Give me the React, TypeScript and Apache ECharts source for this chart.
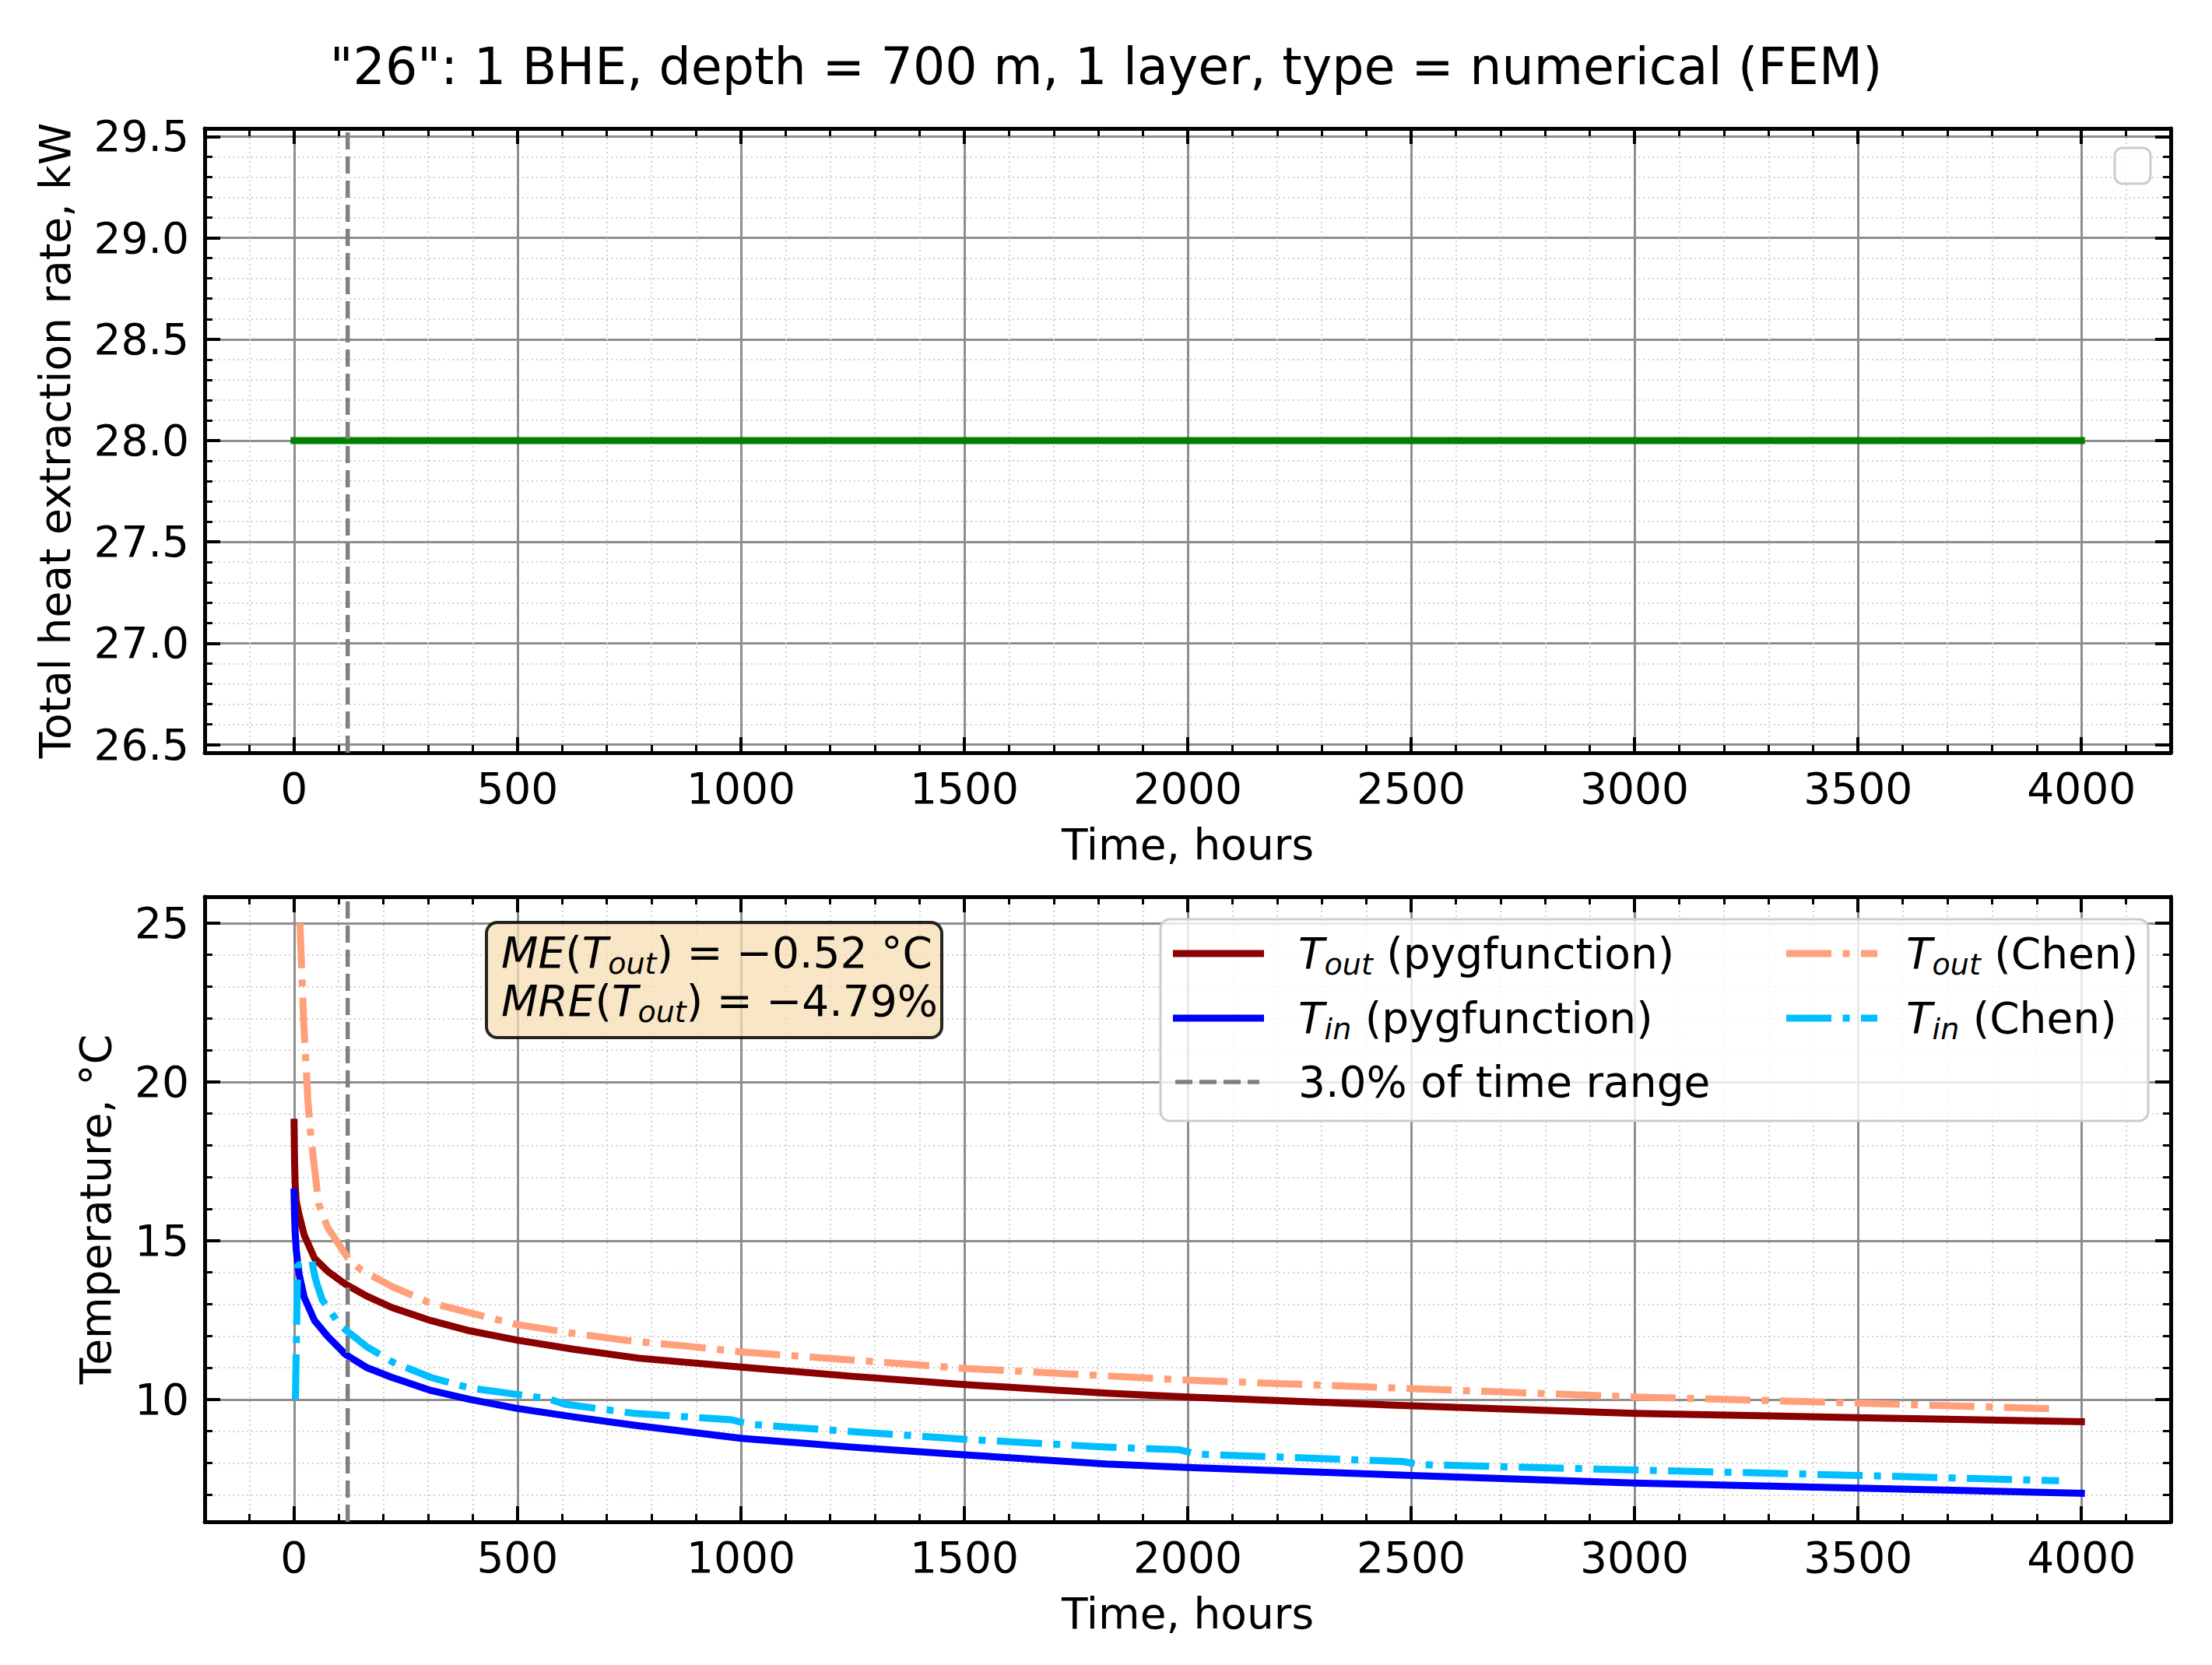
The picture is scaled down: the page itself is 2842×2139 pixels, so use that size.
import React, { useEffect, useRef } from "react";
import * as echarts from "echarts";

// ---------- data ----------
const TITLE = '"26": 1 BHE, depth = 700 m, 1 layer, type = numerical (FEM)';
const X_MIN = -200;
const X_MAX = 4200;
const Q_MIN = 26.46;
const Q_MAX = 29.54;
const T_MIN = 6.15;
const T_MAX = 25.83;
const SPLIT_HOURS = 120; // 3.0 % of time range

const timeQ = [0, 4000];
const qTotal = [28.0, 28.0];

const timePyg = [0, 1, 2.3, 5, 11, 22.6, 46, 75, 115, 162, 220, 307, 394, 499, 627, 772, 1000, 1250, 1500, 1817, 2000, 2500, 3000, 3500, 4000];
const toutPyg = [18.73, 17.6, 16.81, 16.24, 15.83, 15.18, 14.44, 14.04, 13.63, 13.26, 12.89, 12.48, 12.16, 11.87, 11.58, 11.3, 11.02, 10.73, 10.47, 10.2, 10.08, 9.8, 9.56, 9.43, 9.3];
const tinPyg = [16.53, 15.9, 15.3, 14.69, 13.96, 13.22, 12.48, 11.99, 11.42, 11.01, 10.69, 10.28, 10.0, 9.72, 9.45, 9.17, 8.78, 8.5, 8.26, 7.97, 7.86, 7.61, 7.37, 7.21, 7.05];

const timeChenOut = [13, 22, 31, 37, 55, 75, 121, 150, 220, 301, 394, 499, 627, 760, 880, 1000, 1500, 2000, 2450, 3000, 3500, 3950];
const toutChen = [25.0, 21.75, 19.4, 18.36, 16.16, 15.42, 14.44, 14.08, 13.55, 13.06, 12.73, 12.36, 12.08, 11.83, 11.68, 11.5, 10.98, 10.61, 10.37, 10.08, 9.89, 9.7];

const timeChenIn = [3, 8, 11, 30, 40, 46, 52, 63, 104, 162, 220, 307, 394, 499, 568, 606, 763, 980, 1020, 1237, 1500, 1817, 1980, 2020, 2480, 2520, 3000, 3500, 3950];
const tinChen = [10.0, 14.2, 14.24, 14.3, 14.36, 13.9, 13.6, 13.14, 12.32, 11.67, 11.18, 10.69, 10.36, 10.16, 10.03, 9.85, 9.56, 9.36, 9.22, 9.0, 8.75, 8.5, 8.42, 8.28, 8.05, 7.95, 7.78, 7.61, 7.44];

const LEGEND_LABELS = ["(pygfunction)", "(pygfunction)", "3.0% of time range", "(Chen)", "(Chen)"];

// ---------- style ----------
const FONT = "'DejaVu Sans', 'Noto Sans', sans-serif";
const FS = 55;
const C_TOUT = "#8b0000";
const C_TIN = "#0000ff";
const C_TOUT_CHEN = "#ffa07a";
const C_TIN_CHEN = "#00bfff";
const C_GREEN = "#008000";
const C_VLINE = "#808080";
const LW = 9;
const DASHDOT = [58, 14.5, 9, 14.5];
const DASHED = [22, 9];

const zip = (xs: number[], ys: number[]) => xs.map((x, i) => [x, ys[i]]);

const axisLine = { show: true, onZero: false, lineStyle: { color: "#000", width: 5 } };
const majorTick = { show: true, inside: true, length: 20, lineStyle: { color: "#000", width: 4 } };
const minorTick = { show: true, splitNumber: 5, length: 10, lineStyle: { color: "#000", width: 3 } };
const majorGrid = { show: true, lineStyle: { color: "#8e8e8e", width: 3 } };
const minorGrid = { show: true, lineStyle: { color: "#d2d2d2", width: 2, type: [2, 4] } };
const labelStyle = { fontFamily: FONT, fontSize: FS, color: "#000" };

function xAxesFor(gridIndex: number) {
  const common = {
    type: "value",
    gridIndex,
    min: X_MIN,
    max: X_MAX,
    splitNumber: 9,
    axisLine,
    axisTick: majorTick,
    minorTick,
  };
  return [
    {
      ...common,
      position: "bottom",
      splitLine: majorGrid,
      minorSplitLine: minorGrid,
      axisLabel: {
        ...labelStyle,
        show: true,
        showMinLabel: false,
        showMaxLabel: false,
        margin: 18,
        formatter: (v: number) => String(Math.round(v)),
      },
      name: "Time, hours",
      nameLocation: "middle",
      nameGap: 90,
      nameMoveOverlap: false,
      nameTextStyle: labelStyle,
    },
    {
      ...common,
      position: "top",
      splitLine: { show: false },
      minorSplitLine: { show: false },
      axisLabel: { show: false },
    },
  ];
}

function yAxesFor(gridIndex: number, min: number, max: number, splitNumber: number, name: string, nameGap: number, digits: number) {
  const common = {
    type: "value",
    gridIndex,
    min,
    max,
    splitNumber,
    axisLine,
    axisTick: majorTick,
    minorTick,
  };
  return [
    {
      ...common,
      position: "left",
      splitLine: majorGrid,
      minorSplitLine: minorGrid,
      axisLabel: {
        ...labelStyle,
        show: true,
        showMinLabel: false,
        showMaxLabel: false,
        margin: 20,
        formatter: (v: number) => v.toFixed(digits),
      },
      name,
      nameLocation: "middle",
      nameGap,
      nameMoveOverlap: false,
      nameTextStyle: labelStyle,
    },
    {
      ...common,
      position: "right",
      splitLine: { show: false },
      minorSplitLine: { show: false },
      axisLabel: { show: false },
    },
  ];
}

const RICH = {
  i: { fontFamily: FONT, fontSize: FS, fontStyle: "italic", fill: "#000", color: "#000" },
  s: { fontFamily: FONT, fontSize: 38, fontStyle: "italic", fill: "#000", color: "#000", padding: [28, 0, 0, 0] },
  n: { fontFamily: FONT, fontSize: FS, fill: "#000", color: "#000" },
};

function richText(x: number, y: number, text: string) {
  return {
    type: "text",
    x,
    y,
    z: 101,
    style: {
      text,
      rich: RICH,
      fontFamily: FONT,
      fontSize: FS,
      fill: "#000",
      align: "left",
      verticalAlign: "middle",
      textAlign: "left",
      textVerticalAlign: "middle",
    },
  };
}

function legendLine(x1: number, x2: number, y: number, color: string, width: number, dash?: number[]) {
  return {
    type: "line",
    z: 101,
    shape: { x1, y1: y, x2, y2: y },
    style: { stroke: color, lineWidth: width, lineDash: dash || null, lineCap: "butt" },
  };
}

function buildOption() {
  const row = [1225, 1308, 1390];
  const c1Line = [1507, 1624];
  const c2Line = [2295, 2412];
  const c1Text = 1668;
  const c2Text = 2449;

  const graphic = [
    // empty legend frame of the upper panel
    {
      type: "rect",
      z: 100,
      shape: { x: 2717, y: 190, width: 46, height: 46, r: 10 },
      style: { fill: "rgba(255,255,255,0.8)", stroke: "#cccccc", lineWidth: 3 },
    },
    // legend of the lower panel
    {
      type: "rect",
      z: 100,
      shape: { x: 1491, y: 1181, width: 1269, height: 259, r: 12 },
      style: { fill: "rgba(255,255,255,0.8)", stroke: "#cccccc", lineWidth: 3 },
    },
    legendLine(c1Line[0], c1Line[1], row[0], C_TOUT, LW),
    richText(c1Text, row[0], `{i|T}{s|out}{n| ${LEGEND_LABELS[0]}}`),
    legendLine(c1Line[0], c1Line[1], row[1], C_TIN, LW),
    richText(c1Text, row[1], `{i|T}{s|in}{n| ${LEGEND_LABELS[1]}}`),
    legendLine(c1Line[0] + 3, c1Line[1] - 6, row[2], C_VLINE, 5.5, DASHED),
    richText(c1Text, row[2], `{n|${LEGEND_LABELS[2]}}`),
    legendLine(c2Line[0], c2Line[1], row[0], C_TOUT_CHEN, LW, DASHDOT),
    richText(c2Text, row[0], `{i|T}{s|out}{n| ${LEGEND_LABELS[3]}}`),
    legendLine(c2Line[0], c2Line[1], row[1], C_TIN_CHEN, LW, DASHDOT),
    richText(c2Text, row[1], `{i|T}{s|in}{n| ${LEGEND_LABELS[4]}}`),
    // error annotation box
    {
      type: "rect",
      z: 100,
      shape: { x: 625, y: 1185, width: 585, height: 148, r: 14 },
      style: { fill: "rgba(245,222,179,0.75)", stroke: "rgba(0,0,0,0.85)", lineWidth: 4 },
    },
    richText(644, 1224, "{i|ME}{n|(}{i|T}{s|out}{n|) = −0.52 °C}"),
    richText(644, 1286, "{i|MRE}{n|(}{i|T}{s|out}{n|) = −4.79%}"),
  ];

  const solid = (color: string) => ({ color, width: LW, cap: "square", join: "round" });
  const dashdot = (color: string) => ({ color, width: LW, type: DASHDOT, cap: "butt", join: "round" });
  const vline = { color: C_VLINE, width: 5.5, type: DASHED, cap: "butt" };

  const lineSeries = (name: string, xi: number, data: number[][], lineStyle: any, z: number) => ({
    type: "line",
    name,
    xAxisIndex: xi,
    yAxisIndex: xi,
    data,
    showSymbol: false,
    symbol: "none",
    smooth: false,
    silent: true,
    z,
    lineStyle,
    itemStyle: { color: lineStyle.color },
  });

  return {
    animation: false,
    backgroundColor: "#ffffff",
    title: {
      text: TITLE,
      left: "center",
      top: 48,
      textStyle: { fontFamily: FONT, fontSize: 65, fontWeight: "normal", color: "#000" },
    },
    grid: [
      { left: 263, right: 53, top: 165, height: 802, outerBoundsMode: "none" },
      { left: 263, right: 53, top: 1152, height: 803, outerBoundsMode: "none" },
    ],
    xAxis: [...xAxesFor(0), ...xAxesFor(1)],
    yAxis: [
      ...yAxesFor(0, Q_MIN, Q_MAX, 6, "Total heat extraction rate, kW", 165, 1),
      ...yAxesFor(1, T_MIN, T_MAX, 4, "Temperature, °C", 113, 0),
    ],
    series: [
      lineSeries("Total heat extraction rate", 0, zip(timeQ, qTotal), solid(C_GREEN), 3),
      lineSeries("3.0% of time range (top)", 0, [[SPLIT_HOURS, Q_MIN], [SPLIT_HOURS, Q_MAX]], vline, 4),
      lineSeries("T_out (pygfunction)", 2, zip(timePyg, toutPyg), solid(C_TOUT), 3),
      lineSeries("T_in (pygfunction)", 2, zip(timePyg, tinPyg), solid(C_TIN), 3),
      lineSeries("3.0% of time range", 2, [[SPLIT_HOURS, T_MIN], [SPLIT_HOURS, T_MAX]], vline, 4),
      lineSeries("T_out (Chen)", 2, zip(timeChenOut, toutChen), dashdot(C_TOUT_CHEN), 5),
      lineSeries("T_in (Chen)", 2, zip(timeChenIn, tinChen), dashdot(C_TIN_CHEN), 5),
    ],
    graphic,
  };
}

export default function App() {
  const ref = useRef<HTMLDivElement>(null);
  useEffect(() => {
    document.body.style.margin = "0";
    if (!ref.current) return;
    const chart = echarts.init(ref.current, undefined, { renderer: "svg" });
    chart.setOption(buildOption() as any);
    return () => chart.dispose();
  }, []);
  return <div ref={ref} style={{ width: 2842, height: 2139, background: "#fff" }} />;
}
